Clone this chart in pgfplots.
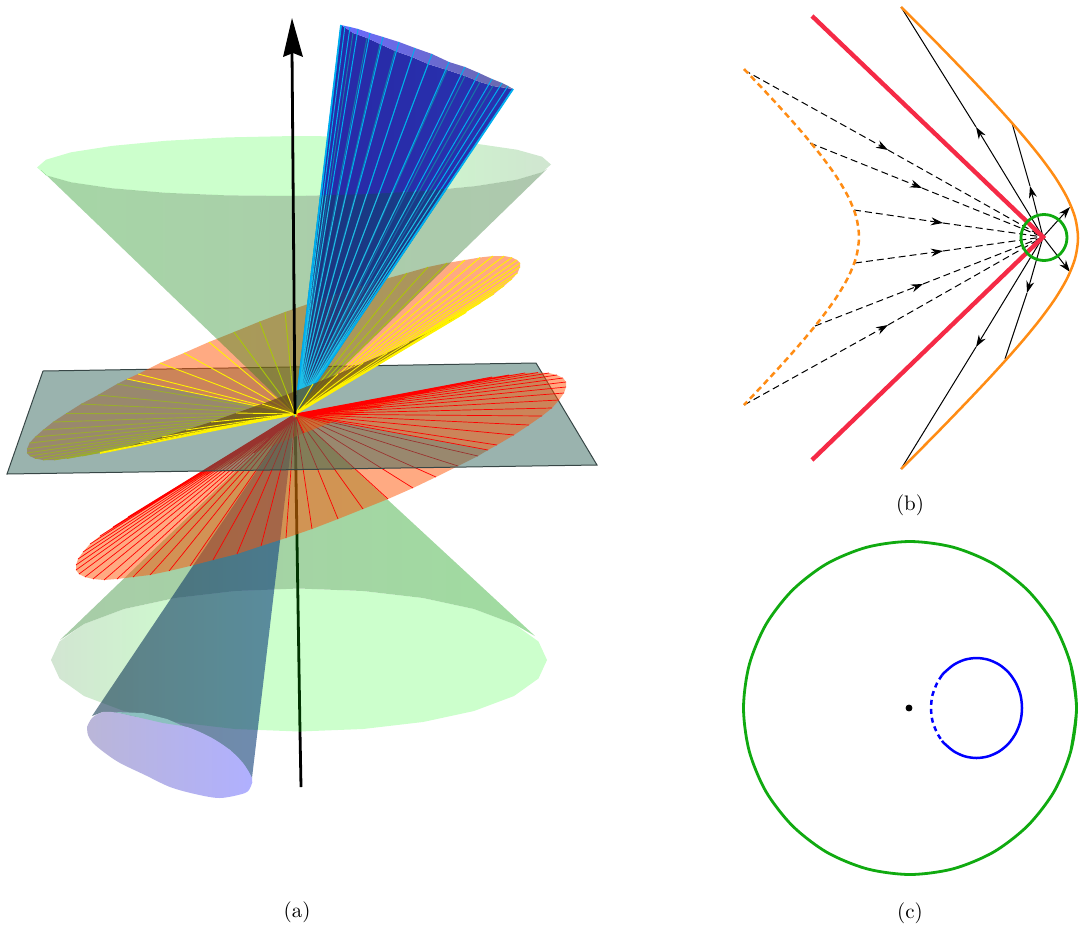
\documentclass[border=0pt]{standalone}
\usepackage{pgfplots}
\pgfplotsset{compat=1.18}
\usetikzlibrary{arrows.meta}
\definecolor{discfill}{RGB}{255,85,5}
\definecolor{planefill}{RGB}{53,103,93}
\definecolor{planeedge}{RGB}{55,70,70}
\definecolor{conegreen}{RGB}{12,144,12}
\definecolor{conegreenr}{RGB}{35,105,35}
\definecolor{capgreen}{RGB}{204,255,204}
\definecolor{capgrey}{RGB}{210,229,210}
\definecolor{capgreyb}{RGB}{208,229,208}
\definecolor{bodyl}{RGB}{168,204,168}
\definecolor{bodym}{RGB}{160,220,160}
\definecolor{blueL}{RGB}{40,40,165}
\definecolor{blueM}{RGB}{38,38,210}
\definecolor{blueR}{RGB}{40,50,175}
\definecolor{blueGL}{RGB}{25,50,130}
\definecolor{blueGM}{RGB}{30,48,165}
\definecolor{blueGR}{RGB}{25,60,140}
\definecolor{rayG}{RGB}{30,190,230}
\definecolor{rayGd}{RGB}{25,100,165}
\definecolor{rimL}{RGB}{106,106,255}
\definecolor{rimR}{RGB}{106,106,170}
\definecolor{lowL}{RGB}{18,56,80}
\definecolor{lowM}{RGB}{32,62,205}
\definecolor{lowR}{RGB}{14,63,131}
\definecolor{lowcapL}{RGB}{186,182,216}
\definecolor{lowcapR}{RGB}{176,176,255}
\definecolor{tealray}{RGB}{20,120,170}
\definecolor{sliver}{RGB}{105,75,25}
\definecolor{redline}{RGB}{245,42,70}
\definecolor{orangeline}{RGB}{255,140,20}
\definecolor{greenline}{RGB}{16,170,16}
\pgfdeclarehorizontalshading{capleft}{100bp}{color(0bp)=(capgrey); color(25bp)=(capgrey); color(42bp)=(capgreen); color(100bp)=(capgreen)}
\pgfdeclarehorizontalshading{capright}{100bp}{color(0bp)=(capgreen); color(55bp)=(capgreen); color(75bp)=(capgreyb); color(100bp)=(capgreyb)}
\begin{document}
\begin{tikzpicture}
\useasboundingbox (0,0) rectangle (542.5pt,463pt);
\begin{axis}[
    hide axis, scale only axis,
    width=542.5pt, height=463pt,
    xmin=0, xmax=1085, ymin=0, ymax=926,
    y dir=reverse, clip=false,
    ray/.style={line width=0.5pt},
    tip/.style={-{Stealth[length=6pt,width=4pt]}},
    dashray/.style={black, line width=0.5pt, dash pattern=on 3.5pt off 2pt}
]
% ---- (a) lower half
% lower cap
\addplot[draw=none, shade, shading=capleft] coordinates {
(547,660)(538.5,678.5)(514,696)(474,711)(423,722)(363,729)(299,731.5)(235,729)(175,722)(124,711)(84,696)(59.5,678.5)(51,660)(59.5,641.5)(84,624)(124,609)(175,598)(235,591)(299,588.5)(363,591)(423,598)(474,609)(514,624)(538.5,641.5)};
% lower body
\addplot[draw=none, left color=bodyl, middle color=bodym, right color=bodym] coordinates {
(295,414)(535,636)(514,624)(474,609)(423,598)(363,591)(299,588.5)(235,591)(175,598)(124,609)(84,624)(60,640)};
% lower axis
\addplot[black!80!green, line width=1.4pt] coordinates {(295,414) (300,732)};
\addplot[black, line width=1.4pt] coordinates {(300,732) (301,787)};
% lower blue cone
\addplot[draw=none, fill opacity=0.6, left color=lowL, middle color=lowM, right color=lowR] coordinates {
(295,414)(252,778)(230,750)(190,728)(137,717)(103,712)(92,716)};
\addplot[draw=none, left color=lowcapL, middle color=lowcapR, right color=lowcapR, smooth] coordinates {
(87,727)(92,718)(103,712)(120,713)(137,717)(165,722)(190,728)(212,738)(230,750)(243,763)(252,778)(251,786)(245,793)(220,798)(195,794)(170,787)(145,775)(120,763)(105,753)(93,743)(88,735)(87,727)};
\addplot[draw=none, fill=black!10!teal!45!white] coordinates {(115,712)(143,713)(167,719)(183,726)(163,723)(137,717)};
% upper cap, upper blue cone
\addplot[draw=none, shade, shading=capright] coordinates {
(551,164.5)(542,172.3)(517,179.7)(476,186.1)(422.5,191.3)(360.6,194.6)(294,196)(227.4,195.4)(165.5,192.8)(112,188.3)(71,182.3)(46,175.3)(37,167.5)(46,159.7)(71,152.3)(112,145.9)(165.5,140.8)(227.4,137.4)(294,136)(360.6,136.6)(422.5,139.3)(476,143.7)(517,149.7)(542,156.7)};
\addplot[draw=none, left color=blueL, middle color=blueM, right color=blueR] coordinates {
(295,414)(341,25)(353,33)(367,38)(380,44)(395,51)(412,57)(428,64)(447,70)(465,76)(480,82)(493,86)(513,89)};
\addplot[draw=none, left color=rimL, right color=rimR] coordinates {
(341,25)(345,26)(350,27)(358,29)(370,33)(383,37)(399,42)(415,48)(432,54)(449,62)(465,67)(479,73)(492,79)(502,83)(508,86)(513,89)(493,86)(480,82)(465,76)(447,70)(428,64)(412,57)(395,51)(380,44)(367,38)(353,33)};
\addplot[tealray, ray] coordinates {
(295,414)(353,33)(295,414)(367,38)(295,414)(380,44)(295,414)(395,51)(295,414)(412,57)(295,414)(428,64)(295,414)(447,70)(295,414)(465,76)(295,414)(480,82)(295,414)(493,86)};
\addplot[cyan, ray] coordinates {
(295,414)(341,25)(295,414)(345,26)(295,414)(350,27)(295,414)(358,29)(295,414)(370,33)(295,414)(383,37)(295,414)(399,42)(295,414)(415,48)(295,414)(432,54)(295,414)(449,62)(295,414)(465,67)(295,414)(479,73)(295,414)(492,79)(295,414)(502,83)(295,414)(508,86)(295,414)(513,89)};
\addplot[cyan, line width=0.9pt] coordinates {(341,25)(295,414)(513,89)};
% red disc, part behind the plane
\addplot[draw=none, fill=discfill, fill opacity=0.5] coordinates {
(295,414)(488,450)(478,456)(458,466)(436,477)(413,488)(388,499)(363,509)(338,519)(312,529)(286,538)(261,546)(237,554)(213,560)(190,566)(169,571)(150,575)(133,577)(117,579)(104,580)(93,579)(85,577)(79,574)(76,570)(76,565)(78,559)(83,552)(90,544)(100,536)(113,527)(128,517)};
\addplot[draw=none, fill=discfill, fill opacity=0.5] coordinates {
(295,414)(128,517)(145,507)(164,496)(184,486)(206,475)(230,464)(254,453)(279,443)(304,433)};
\addplot[red, line width=0.35pt] coordinates {
(295,414)(478,456)(295,414)(458,466)(295,414)(436,477)(295,414)(413,488)(295,414)(388,499)(295,414)(363,509)(295,414)(338,519)(295,414)(312,529)(295,414)(286,538)(295,414)(261,546)(295,414)(237,554)(295,414)(213,560)(295,414)(190,566)(295,414)(169,571)(295,414)(150,575)(295,414)(133,577)(295,414)(117,579)(295,414)(104,580)(295,414)(93,579)(295,414)(85,577)(295,414)(79,574)(295,414)(76,570)(295,414)(76,565)(295,414)(78,559)(295,414)(83,552)(295,414)(90,544)(295,414)(100,536)(295,414)(113,527)(295,414)(128,517)(295,414)(145,507)(295,414)(164,496)(295,414)(184,486)(295,414)(206,475)(295,414)(230,464)(295,414)(254,453)(295,414)(279,443)};
% yellow disc, part behind the plane
\addplot[draw=none, fill=discfill, fill opacity=0.5] coordinates {
(295,414)(127,379)(117,384)(98,395)(81,404)(66,413.5)(53,422)(43,430)(35,437)(29.5,443)(27,449)(27,453)(30,456)(35,458.5)(43,460)(54,460)(67,458.5)(82,456)(100,453)};
\addplot[yellow, line width=0.45pt] coordinates {
(295,414)(117,384)(295,414)(98,395)(295,414)(81,404)(295,414)(66,413.5)(295,414)(53,422)(295,414)(43,430)(295,414)(35,437)(295,414)(29.5,443)(295,414)(27,449)(295,414)(27,453)(295,414)(30,456)(295,414)(35,458.5)(295,414)(43,460)(295,414)(54,460)(295,414)(67,458.5)(295,414)(82,456)(295,414)(100,453)};
% plane
\addplot[planeedge, line width=0.5pt, fill=planefill, fill opacity=0.5] coordinates {(43,371)(536,363)(597,465)(7,474)(43,371)};
% red disc, front part
\addplot[draw=none, fill=discfill, fill opacity=0.5] coordinates {
(295,414)(487,378)(492,377)(509,375)(525,373)(538,372.5)(549,373)(557,375)(563,378)(566,382)(566,387)(564,393)(559,400)(552,408)(542,416)(529,425)(514,435)(497,445)(488,450)};
\addplot[draw=none, fill=discfill, fill opacity=0.5] coordinates {
(295,414)(304,433)(330,423)(356,414)(381,406)(405,398)(429,392)(452,386)(473,381)(487,378)};
\addplot[red, line width=0.35pt] coordinates {
(295,414)(304,433)(295,414)(330,423)(295,414)(356,414)(295,414)(381,406)(295,414)(405,398)(295,414)(429,392)(295,414)(452,386)(295,414)(473,381)(295,414)(492,377)(295,414)(509,375)(295,414)(525,373)(295,414)(538,372.5)(295,414)(549,373)(295,414)(557,375)(295,414)(563,378)(295,414)(566,382)(295,414)(566,387)(295,414)(564,393)(295,414)(559,400)(295,414)(552,408)(295,414)(542,416)(295,414)(529,425)(295,414)(514,435)(295,414)(497,445)(295,414)(488,450)};
% yellow disc, front part
\addplot[draw=none, fill=discfill, fill opacity=0.5] coordinates {
(295,414)(466,312)(481,302.5)(494,294)(504,286)(512,279)(517.5,273)(520,267)(520,263)(517,260)(512,257.5)(504,256)(493,256)(480,257.5)(465,260)(447,263)(428,267)(407,273)(385,279)(361,286)(336,294)(311,303)(285,312)(259.5,321.6)(234,332)(209,342)(184,353)(160,363)(138,374)(127,379)};
\addplot[yellow, line width=0.45pt] coordinates {
(295,414)(481,302.5)(295,414)(494,294)(295,414)(504,286)(295,414)(512,279)(295,414)(517.5,273)(295,414)(520,267)(295,414)(520,263)(295,414)(517,260)(295,414)(512,257.5)(295,414)(504,256)(295,414)(493,256)(295,414)(480,257.5)(295,414)(465,260)(295,414)(447,263)(295,414)(428,267)(295,414)(407,273)(295,414)(385,279)(295,414)(361,286)(295,414)(336,294)(295,414)(311,303)(295,414)(285,312)(295,414)(259.5,321.6)(295,414)(234,332)(295,414)(209,342)(295,414)(184,353)(295,414)(160,363)(295,414)(138,374)(295,414)(127,379)};
% upper green cone over all that
\addplot[draw=none, fill opacity=0.37, left color=conegreen, middle color=conegreen, right color=conegreenr] coordinates {
(295,414)(547,169)(542,172.3)(517,179.7)(476,186.1)(422.5,191.3)(360.6,194.6)(294,196)(227.4,195.4)(165.5,192.8)(112,188.3)(71,182.3)(46,175.3)(41,170)};
% blue cone again below the cap: it hides the yellow rays
\addplot[draw=none, fill opacity=0.85, left color=blueGL, middle color=blueGM, right color=blueGR] coordinates {
(295,414)(320.9,195)(360.6,194.6)(422.5,191.3)(445.9,189)};
\addplot[rayGd, ray] coordinates {
(295,414)(328.3,195)(295,414)(336.9,195)(295,414)(345.3,195)(295,414)(355.3,195)(295,414)(366.8,195)(295,414)(379,193)(295,414)(393,192)(295,414)(407,191)(295,414)(419.8,190)(295,414)(430.2,190)};
\addplot[rayG, ray] coordinates {
(295,414)(320.9,195)(295,414)(323.2,195)(295,414)(326.1,195)(295,414)(330.8,195)(295,414)(338.1,195)(295,414)(346.1,194.5)(295,414)(356.2,194.5)(295,414)(366.8,194)(295,414)(379.1,193)(295,414)(392.2,192)(295,414)(404.3,191)(295,414)(415.9,190)(295,414)(426.8,190)(295,414)(435.4,189.5)(295,414)(440.7,189.5)(295,414)(445.9,189)};
\addplot[cyan, line width=0.9pt] coordinates {(320.9,195)(295,414)(445.9,189)};
% near part of the yellow disc
\addplot[draw=none, fill=sliver, fill opacity=0.72] coordinates {
(295,414)(100,453)(119,449)(140,443)(162,437)(186,430)(211,422)(236,413)(262,404)(287.5,394.4)(313,384)(338,374)(363,363)(387,353)(409,342)(430,332)(449,321)(466,312)};
\addplot[yellow, line width=0.45pt] coordinates {
(295,414)(119,449)(295,414)(140,443)(295,414)(162,437)(295,414)(186,430)(295,414)(211,422)(295,414)(236,413)(295,414)(262,404)(295,414)(287.5,394.4)(295,414)(313,384)(295,414)(338,374)(295,414)(363,363)(295,414)(387,353)(295,414)(409,342)(295,414)(430,332)(295,414)(449,321)(295,414)(466,312)};
\addplot[yellow, line width=0.9pt] coordinates {(100,453)(295,414)(466,312)};
% upper axis
\addplot[black, line width=1.4pt] coordinates {(295,414) (292,50)};
\addplot[draw=none, fill=black] coordinates {(292,18)(303,57)(293,53)(283,57)};
% ---- (b)
\addplot[dashray, tip] coordinates {(744,70)(888,150)};
\addplot[dashray] coordinates {(888,150)(1043,237)};
\addplot[dashray, tip] coordinates {(810,143)(922,188)};
\addplot[dashray] coordinates {(922,188)(1043,237)};
\addplot[dashray, tip] coordinates {(854,210)(943,223)};
\addplot[dashray] coordinates {(943,223)(1043,237)};
\addplot[dashray, tip] coordinates {(855,263)(943,251)};
\addplot[dashray] coordinates {(943,251)(1043,237)};
\addplot[dashray, tip] coordinates {(815,326)(923,284)};
\addplot[dashray] coordinates {(923,284)(1043,237)};
\addplot[dashray, tip] coordinates {(744,405)(888,325)};
\addplot[dashray] coordinates {(888,325)(1043,237)};
\addplot[black, ray, tip] coordinates {(1043,237)(976,127)};
\addplot[black, ray] coordinates {(976,127)(901,7)};
\addplot[black, ray, tip] coordinates {(1043,237)(1030,186)};
\addplot[black, ray] coordinates {(1030,186)(1012,123)};
\addplot[black, ray, tip] coordinates {(1043,237)(1070,207)};
\addplot[black, ray, tip] coordinates {(1043,237)(1070,272)};
\addplot[black, ray, tip] coordinates {(1043,237)(1027,293)};
\addplot[black, ray] coordinates {(1027,293)(1005,359)};
\addplot[black, ray, tip] coordinates {(1043,237)(976,347)};
\addplot[black, ray] coordinates {(976,347)(901,469)};
\addplot[orangeline, line width=1.25pt, smooth] coordinates {
(901.2,7)(931.9,38)(951.4,58)(970.6,78)(989.4,98)(1007.6,118)(1025,138)(1041.2,158)(1055.6,178)(1067.3,198)(1075.2,218)(1078,238)(1075.2,258)(1067.3,278)(1055.6,298)(1041.2,318)(1025,338)(1007.6,358)(989.4,378)(970.6,398)(951.4,418)(931.9,438)(901.2,469)};
\addplot[orangeline, line width=1.25pt, dash pattern=on 3pt off 2pt, smooth] coordinates {
(744,69)(751.6,77)(770.4,97)(788.6,117)(806,137)(822.2,157)(836.6,177)(848.3,197)(856.2,217)(859,237)(856.2,257)(848.3,277)(836.6,297)(822.2,317)(806,337)(788.6,357)(770.4,377)(751.6,397)(744,405)};
\addplot[redline, line width=2.2pt] coordinates {(812,16)(1043,237)(812,460)};
\addplot[greenline, line width=1.4pt, smooth] coordinates {
(1066.2,231.5)(1067,237.5)(1066.2,243.5)(1063.9,249)(1060.3,253.8)(1055.5,257.4)(1050,259.7)(1044,260.5)(1038,259.7)(1032.5,257.4)(1027.7,253.8)(1024.1,249)(1021.8,243.5)(1021,237.5)(1021.8,231.5)(1024.1,226)(1027.7,221.2)(1032.5,217.6)(1038,215.3)(1044,214.5)(1050,215.3)(1055.5,217.6)(1060.3,221.2)(1063.9,226)(1066.2,231.5)(1067,237.5)(1066.2,243.5)};
% ---- (c)
\addplot[greenline, line width=1.4pt, smooth] coordinates {
(1070.8,664.9)(1076.5,708)(1070.8,751.1)(1054.2,791.3)(1027.7,825.7)(993.3,852.2)(953.1,868.8)(910,874.5)(866.9,868.8)(826.7,852.2)(792.3,825.7)(765.8,791.3)(749.2,751.1)(743.5,708)(749.2,664.9)(765.8,624.7)(792.3,590.3)(826.7,563.8)(866.9,547.2)(910,541.5)(953.1,547.2)(993.3,563.8)(1027.7,590.3)(1054.2,624.7)(1070.8,664.9)(1076.5,708)(1070.8,751.1)};
\addplot[blue, line width=1.25pt, smooth] coordinates {
(942,675.2)(944.3,672.6)(953.8,664.7)(964.7,659.7)(976.5,658)(988.3,659.7)(999.3,664.7)(1008.7,672.6)(1015.9,683)(1020.5,695)(1022,708)(1020.5,721)(1015.9,733)(1008.7,743.4)(999.3,751.3)(988.3,756.3)(976.5,758)(964.7,756.3)(953.8,751.3)(944.3,743.4)(942,740.8)};
\addplot[blue, line width=1.25pt, dash pattern=on 2.5pt off 2pt, smooth] coordinates {
(942,675.2)(937.1,683)(932.5,695)(931,708)(932.5,721)(937.1,733)(942,740.8)};
\addplot[only marks, mark=*, mark size=1.5pt, black] coordinates {(909,708)};
% captions
\node[font=\fontsize{10.5}{12}\selectfont] at (axis cs:297,912) {(a)};
\node[font=\fontsize{10.5}{12}\selectfont] at (axis cs:910,505) {(b)};
\node[font=\fontsize{10.5}{12}\selectfont] at (axis cs:910,913) {(c)};
\end{axis}
\end{tikzpicture}
\end{document}
